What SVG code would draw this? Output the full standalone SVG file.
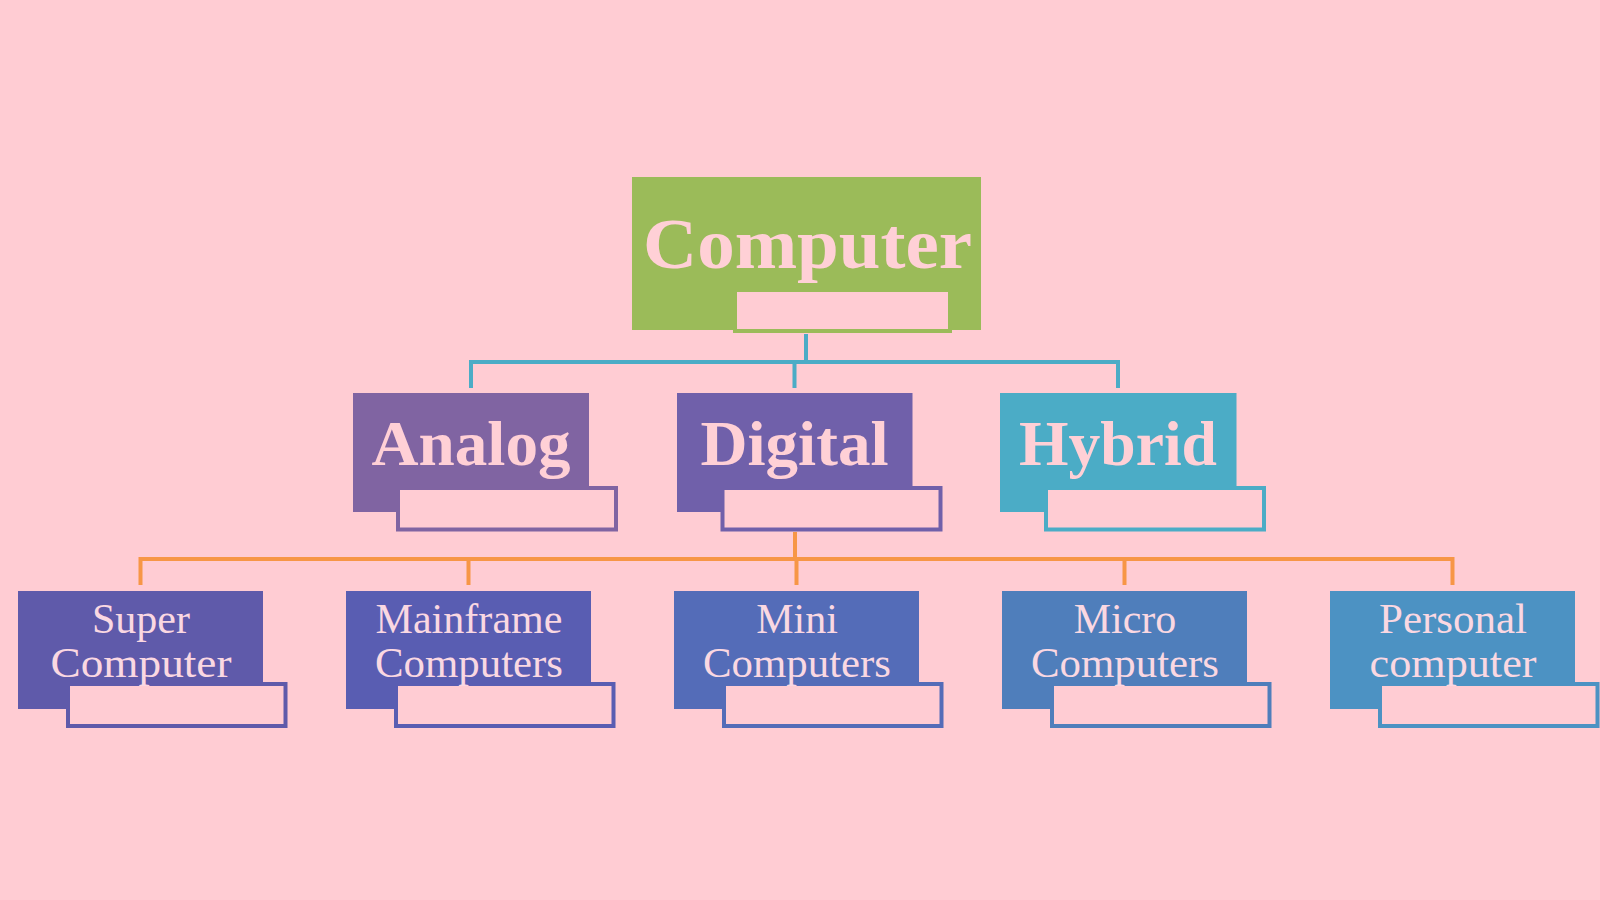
<svg xmlns="http://www.w3.org/2000/svg" width="1600" height="900" viewBox="0 0 1600 900">
<style>
.bg{fill:#FFCCD3}
.inner{fill:#FFCCD3;stroke-width:4}
.t1{font-family:"Liberation Serif","DejaVu Serif",serif;font-weight:bold;fill:#FFD0D6;text-anchor:middle}
.t2{font-family:"Liberation Serif","DejaVu Serif",serif;font-size:42px;fill:#FAD8E2;text-anchor:middle}
.teal{stroke:#4BACC6;stroke-width:4;fill:none}
.orange{stroke:#F79646;stroke-width:4;fill:none}
</style>
<rect class="bg" x="0" y="0" width="1600" height="900"/>
<g id="connectors">
<path class="teal" d="M806,334 V362 M471,362 H1118 M471,360 V388 M794.5,362 V388 M1118,360 V388"/>
<path class="orange" d="M795,532 V559 M140.5,559 H1452.5 M140.5,557 V585 M468.5,559 V585 M796.5,559 V585 M1124.5,559 V585 M1452.5,557 V585"/>
</g>
<g id="computer">
<rect x="632" y="177" width="349" height="153" fill="#9BBB59"/>
<rect class="inner" x="735" y="290" width="215" height="41" stroke="#9BBB59" stroke-width="3"/>
<text class="t1" x="807.5" y="268" font-size="71" textLength="329" lengthAdjust="spacingAndGlyphs">Computer</text>
</g>
<g id="analog">
<rect x="353" y="393" width="236" height="119" fill="#8064A2"/>
<rect class="inner" x="398" y="488" width="218" height="41.5" stroke="#8064A2"/>
<text class="t1" x="471" y="464.5" font-size="64" textLength="199" lengthAdjust="spacingAndGlyphs">Analog</text>
</g>
<g id="digital">
<rect x="677" y="393" width="235.5" height="119" fill="#7060AA"/>
<rect class="inner" x="722.5" y="488" width="218" height="41.5" stroke="#7060AA"/>
<text class="t1" x="794.5" y="464.5" font-size="64" textLength="188" lengthAdjust="spacingAndGlyphs">Digital</text>
</g>
<g id="hybrid">
<rect x="1000" y="393" width="236.5" height="119" fill="#4BACC6"/>
<rect class="inner" x="1046" y="488" width="218" height="41.5" stroke="#4BACC6"/>
<text class="t1" x="1118" y="464.5" font-size="64" textLength="198" lengthAdjust="spacingAndGlyphs">Hybrid</text>
</g>
<g id="super">
<rect x="18" y="591" width="245" height="118" fill="#5F5AAA"/>
<rect class="inner" x="68" y="684" width="217.5" height="42" stroke="#5F5AAA"/>
<text class="t2" x="141" y="632.5">Super</text>
<text class="t2" x="141" y="677.3" textLength="181" lengthAdjust="spacingAndGlyphs">Computer</text>
</g>
<g id="mainframe">
<rect x="346" y="591" width="245" height="118" fill="#595DB2"/>
<rect class="inner" x="396" y="684" width="217.5" height="42" stroke="#595DB2"/>
<text class="t2" x="469" y="632.5" textLength="187" lengthAdjust="spacingAndGlyphs">Mainframe</text>
<text class="t2" x="469" y="677.3" textLength="188" lengthAdjust="spacingAndGlyphs">Computers</text>
</g>
<g id="mini">
<rect x="674" y="591" width="245" height="118" fill="#546CB8"/>
<rect class="inner" x="724" y="684" width="217.5" height="42" stroke="#546CB8"/>
<text class="t2" x="797" y="632.5">Mini</text>
<text class="t2" x="797" y="677.3" textLength="188" lengthAdjust="spacingAndGlyphs">Computers</text>
</g>
<g id="micro">
<rect x="1002" y="591" width="245" height="118" fill="#4F7EBB"/>
<rect class="inner" x="1052" y="684" width="217.5" height="42" stroke="#4F7EBB"/>
<text class="t2" x="1125" y="632.5">Micro</text>
<text class="t2" x="1125" y="677.3" textLength="188" lengthAdjust="spacingAndGlyphs">Computers</text>
</g>
<g id="personal">
<rect x="1330" y="591" width="245" height="118" fill="#4C92C3"/>
<rect class="inner" x="1380" y="684" width="217.5" height="42" stroke="#4C92C3"/>
<text class="t2" x="1453" y="632.5" textLength="148" lengthAdjust="spacingAndGlyphs">Personal</text>
<text class="t2" x="1453" y="677.3" textLength="167" lengthAdjust="spacingAndGlyphs">computer</text>
</g>
</svg>
